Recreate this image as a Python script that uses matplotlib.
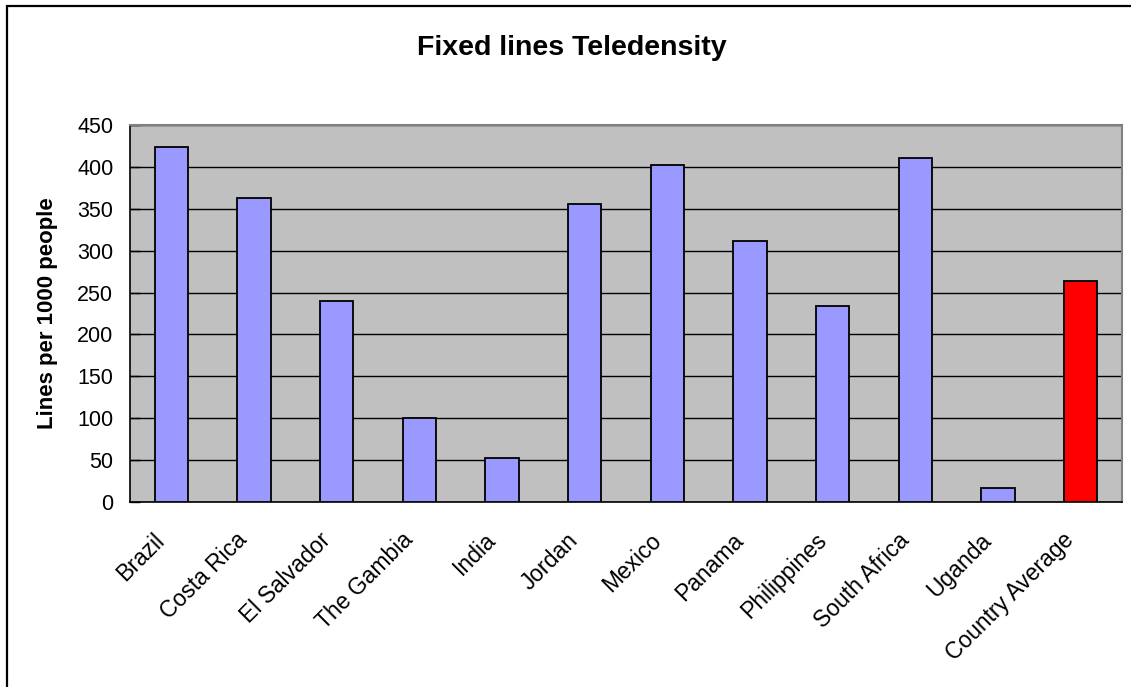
import matplotlib
matplotlib.use("Agg")
import matplotlib.pyplot as plt
import matplotlib.transforms as mtransforms
from matplotlib.patches import Rectangle

# values
countries = ["Brazil", "Costa Rica", "El Salvador", "The Gambia", "India", "Jordan",
             "Mexico", "Panama", "Philippines", "South Africa", "Uganda", "Country Average"]
lines_per_1000 = [424, 363, 240, 100, 52, 356, 402, 312, 234, 411, 17, 264]
bar_colors = ["#9999ff"] * 11 + ["#ff0000"]
y_ticks = [0, 50, 100, 150, 200, 250, 300, 350, 400, 450]

plt.rcParams["font.family"] = ["Liberation Sans", "DejaVu Sans"]

fig = plt.figure(figsize=(11.31, 6.87), dpi=100)
ax = fig.add_axes([130 / 1131, 1 - 502 / 687, (1122 - 130) / 1131, (502 - 125) / 687])

x = range(len(countries))
ax.bar(x, lines_per_1000, width=0.4, color=bar_colors, edgecolor="black",
       linewidth=1.3, zorder=3)

ax.set_facecolor("#c0c0c0")
ax.set_xlim(-0.5, len(countries) - 0.5)
ax.set_ylim(0, 450)
ax.set_yticks(y_ticks)
ax.tick_params(axis="y", labelsize=15.5, direction="in", length=7, width=1, pad=12)
ax.tick_params(axis="x", length=0, labelsize=16.5, pad=25)
ax.set_xticks(list(x))
ax.set_xticklabels(countries, rotation=45, ha="right", va="center", rotation_mode="anchor")
# nudge the slanted labels a bit to the left, like the original
shift = mtransforms.ScaledTranslation(-10 / 100, 0, fig.dpi_scale_trans)
for lbl in ax.get_xticklabels():
    lbl.set_transform(lbl.get_transform() + shift)
ax.grid(axis="y", color="black", linewidth=1, zorder=1)
ax.set_axisbelow(True)

for side in ["top", "right"]:
    ax.spines[side].set_color("#808080")
    ax.spines[side].set_linewidth(1.5)
for side in ["left", "bottom"]:
    ax.spines[side].set_color("black")
    ax.spines[side].set_linewidth(1.2)

ax.set_ylabel("Lines per 1000 people", fontsize=16, fontweight="bold", labelpad=14)
fig.text(572 / 1131, 1 - 48 / 687, "Fixed lines Teledensity", fontsize=20.5, fontweight="bold",
         ha="center", va="center")

# outer chart border (left and top visible)
fig.add_artist(Rectangle((7 / 1131, -0.1), 1.2, 1.1 - 6 / 687, transform=fig.transFigure,
                         fill=False, edgecolor="black", linewidth=1.6))

fig.savefig("out.png", dpi=100)
